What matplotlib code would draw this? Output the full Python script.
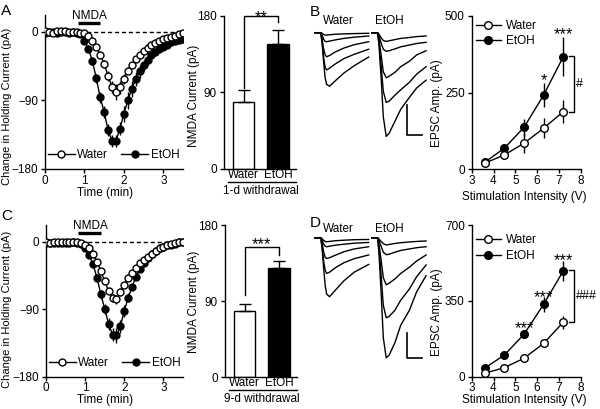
import numpy as np
import matplotlib
matplotlib.use("Agg")
import matplotlib.pyplot as plt
from matplotlib.lines import Line2D

plt.rcParams['font.family'] = ['Liberation Sans', 'DejaVu Sans']
plt.rcParams['font.size'] = 8.5
plt.rcParams['axes.linewidth'] = 1
for a in ('xtick', 'ytick'):
    plt.rcParams[a + '.major.size'] = 3
    plt.rcParams[a + '.major.width'] = 1
    plt.rcParams[a + '.major.pad'] = 2
    plt.rcParams[a + '.direction'] = 'out'

# ---------------- data ----------------
# holding current time course, one point every 0.1 min
time_min = np.linspace(0, 3.5, 36)
nmda_on = [0.83, 1.40]

a_water = [0.5, 0, -1, 0.5, 1, 0.5, 0, -0.5, 0, -1,
           -2, -6, -12, -20, -30, -42, -58, -72, -79, -73, -62, -51, -43, -36,
           -30, -25, -21, -18, -15, -12.5, -10, -8, -6.5, -5, -3, -2]
a_water_err = [1] * 10 + [1, 2, 2, 3, 4, 5, 6, 8, 10, 8, 6, 5, 4, 4,
                          3, 3, 3, 2, 2, 2, 2, 2, 2, 1, 1, 1]
a_etoh = [-1, -0.5, 0, -1, -0.5, 0, -1, -0.5, -1,
          -3, -12, -22, -38, -61, -86, -105, -129, -143, -143, -127, -108, -90,
          -75, -62, -52, -44, -37, -31, -27, -23, -20, -17, -14, -12, -10.5, -9]
a_etoh_err = [1] * 9 + [2, 3, 4, 5, 6, 7, 8, 8, 8, 8, 9, 10, 11, 10, 9,
                        8, 7, 6, 5, 5, 4, 4, 3, 3, 3, 3, 3]

c_water = [-1, -1.5, -1, -0.5, -1, -0.5, -1, 0, -0.5, -1.5,
           -4, -9, -17, -27, -39, -53, -66, -75, -77, -67, -58, -49, -42, -35,
           -29, -24, -20, -16, -12, -9, -7, -5, -3, -2, -1, 0]
c_water_err = [1] * 10 + [1, 2, 2, 3, 3, 4, 4, 5, 6, 5, 4, 4, 3, 3,
                          3, 2, 2, 2, 2, 2, 1, 1, 1, 1, 1, 1]
c_etoh = [-2, -2.5, -2, -1.5, -2, -1.5, -2, -1, -2,
          -3, -8, -18, -30, -48, -70, -90, -110, -124, -125, -113, -92, -75,
          -60, -47, -37, -29, -22, -17, -13, -9, -7, -5, -4, -3, -1, 0]
c_etoh_err = [1] * 9 + [1, 2, 3, 4, 5, 6, 7, 8, 9, 10, 9, 8, 6, 5, 4,
                        4, 3, 3, 2, 2, 2, 2, 1, 1, 1, 1, 1]

# NMDA current bars
groups = ['Water', 'EtOH']
a_bar = [79, 147]
a_bar_err = [14, 17]
c_bar = [78, 129]
c_bar_err = [9, 9]

# example EPSC traces (ms, pA)
tw = [0, 4, 5, 6, 7, 8, 10, 14, 20, 27, 37]
te = [0, 4, 5, 6.5, 8, 10, 12, 16, 20, 26, 31, 37.5]
b_water_traces = [
    [0, 0, -3, -6, -8, -8, -7, -5, -4, -3, -2],
    [0, 0, -10, -22, -29, -30, -28, -24, -19, -15, -11],
    [0, 0, -25, -55, -74, -80, -76, -64, -51, -40, -30],
    [0, 0, -35, -85, -115, -124, -118, -104, -86, -72, -55],
    [0, 0, -40, -100, -150, -172, -178, -160, -134, -110, -81],
]
b_etoh_traces = [
    [0, 0, -5, -17, -26, -29, -27, -23, -19, -16, -13, -11],
    [0, 0, -10, -35, -55, -62, -60, -54, -47, -41, -36, -32],
    [0, 0, -20, -75, -130, -150, -145, -132, -113, -95, -74, -60],
    [0, 0, -30, -110, -195, -232, -228, -208, -190, -165, -138, -113],
    [0, 0, -40, -150, -280, -345, -335, -295, -255, -215, -184, -158],
]
d_water_traces = [
    [0, 0, -5, -11, -15, -16, -15, -12, -10, -8, -7],
    [0, 0, -12, -26, -34, -36, -34, -30, -26, -22, -19],
    [0, 0, -25, -58, -78, -83, -80, -70, -56, -45, -36],
    [0, 0, -40, -95, -130, -143, -138, -120, -100, -84, -69],
    [0, 0, -50, -125, -190, -225, -236, -210, -172, -138, -107],
]
d_etoh_traces = [
    [0, 0, -5, -15, -24, -29, -27, -23, -20, -17, -15, -13],
    [0, 0, -10, -35, -58, -68, -66, -58, -51, -45, -40, -36],
    [0, 0, -25, -90, -160, -188, -182, -165, -143, -118, -93, -69],
    [0, 0, -45, -150, -270, -320, -315, -290, -250, -205, -156, -109],
    [0, 0, -60, -220, -400, -480, -470, -420, -350, -290, -216, -152],
]
scale_ms = 10
scale_pa = 100

# input-output curves
volts = [3.6, 4.5, 5.4, 6.3, 7.2]
b_water = [20, 47, 85, 134, 188]
b_water_err = [6, 13, 33, 33, 38]
b_etoh = [23, 69, 137, 242, 367]
b_etoh_err = [6, 10, 27, 40, 64]
d_water = [16, 42, 85, 154, 251]
d_water_err = [6, 8, 10, 12, 31]
d_etoh = [40, 100, 196, 334, 488]
d_etoh_err = [8, 10, 15, 34, 45]

# ---------------- figure ----------------
W, H = 600, 409
fig = plt.figure(figsize=(W / 100, H / 100), dpi=100)


def px_axes(x0, y0, x1, y1):
    return fig.add_axes([x0 / W, 1 - y1 / H, (x1 - x0) / W, (y1 - y0) / H])


def px_text(x, y, s, **kw):
    fig.text(x / W, 1 - y / H, s, **kw)


def px_hline(x0, x1, y):
    fig.add_artist(Line2D([x0 / W, x1 / W], [1 - y / H] * 2, color='k', lw=1,
                          transform=fig.transFigure))


def clean(ax):
    ax.spines['top'].set_visible(False)
    ax.spines['right'].set_visible(False)


def legend_handles(ms):
    return [Line2D([], [], color='k', lw=1, marker='o', ms=ms, mfc='white', mec='k'),
            Line2D([], [], color='k', lw=1, marker='o', ms=ms, mfc='k', mec='k')]


def time_course(ax, water, water_err, etoh, etoh_err):
    clean(ax)
    ax.axhline(0, color='k', lw=1, ls=(0, (3, 2)), zorder=1)
    ax.errorbar(time_min, etoh, yerr=etoh_err, fmt='-o', color='k', mfc='k', mec='k',
                ms=5, lw=1, elinewidth=1, capsize=0, zorder=2)
    ax.errorbar(time_min, water, yerr=water_err, fmt='-o', color='k', mfc='white', mec='k',
                ms=5, lw=1, elinewidth=1, capsize=0, zorder=3)
    ax.set_xlim(0, 3.5)
    ax.set_ylim(-180, 22)
    ax.set_xticks([0, 1, 2, 3])
    ax.set_yticks([0, -90, -180])
    ax.tick_params(axis='x', pad=1)
    ax.plot(nmda_on, [11.5, 11.5], color='k', lw=2.4, solid_capstyle='butt', clip_on=False)
    ax.text(1.13, 16.3, 'NMDA', ha='center', va='baseline')
    ax.legend(legend_handles(5), groups, ncol=2, loc='center left',
              bbox_to_anchor=(0.02, 0.09), frameon=False, handlelength=2.3,
              handletextpad=0.2, columnspacing=1.1, borderpad=0, borderaxespad=0)


def bar_panel(ax, means, errs, bracket, stars):
    clean(ax)
    ax.bar([0, 1], means, width=0.62, color=['white', 'black'], edgecolor='k',
           linewidth=1, zorder=2)
    ax.errorbar([0, 1], means, yerr=[[0, 0], errs], fmt='none', ecolor='k',
                elinewidth=1, capsize=4.5, capthick=1, zorder=3)
    left_end, top, right_end, star_y = bracket
    ax.plot([0, 0, 1, 1], [left_end, top, top, right_end], color='k', lw=1, clip_on=False)
    ax.annotate(stars, (0.5, star_y), xytext=(0, -7), textcoords='offset points',
                ha='center', va='baseline', fontsize=12, annotation_clip=False)
    ax.set_xlim(-0.57, 1.52)
    ax.set_ylim(0, 180)
    ax.set_yticks([0, 90, 180])
    ax.set_xticks([0, 1], groups)
    ax.tick_params(axis='x', length=0, pad=0)


def trace_panel(ax, w_traces, e_traces, e_offset, corner):
    ax.axis('off')
    for tr in w_traces:
        ax.plot(tw, tr, color='k', lw=1)
    for tr in e_traces:
        ax.plot(np.array(te) + e_offset, tr, color='k', lw=1)
    x0, y0 = corner
    ax.plot([x0, x0, x0 + scale_ms], [y0 + scale_pa, y0, y0], color='k', lw=1.2)


def epsc_panel(ax, water, water_err, etoh, etoh_err, yticks, star_marks, bracket, hashes, leg_y):
    clean(ax)
    ax.errorbar(volts, etoh, yerr=etoh_err, fmt='-o', color='k', mfc='k', mec='k',
                ms=5.5, lw=1, elinewidth=1, capsize=0, zorder=3, clip_on=False)
    ax.errorbar(volts, water, yerr=water_err, fmt='-o', color='k', mfc='white', mec='k',
                ms=5.5, lw=1, elinewidth=1, capsize=0, zorder=4, clip_on=False)
    ax.set_xlim(3, 8)
    ax.set_ylim(0, yticks[-1])
    ax.set_xticks([3, 4, 5, 6, 7, 8])
    ax.set_yticks(yticks)
    ax.tick_params(axis='x', pad=1)
    for v, y, s in star_marks:
        ax.annotate(s, (v, y), xytext=(0, -7), textcoords='offset points',
                    ha='center', va='baseline', fontsize=12, annotation_clip=False)
    top, bottom = bracket
    ax.plot([7.46, 7.69, 7.69, 7.46], [top, top, bottom, bottom], color='k', lw=1, clip_on=False)
    ax.text(7.8, (top + bottom) / 2, hashes, ha='left', va='center', fontsize=9)
    ax.legend(legend_handles(5.5), groups, loc='upper left', bbox_to_anchor=(0.04, leg_y),
              frameon=False, handlelength=2.1, handletextpad=0.4, labelspacing=0.3,
              borderpad=0, borderaxespad=0)


# row 1
ax_a = px_axes(45, 15, 183, 169)
time_course(ax_a, a_water, a_water_err, a_etoh, a_etoh_err)
ax_ab = px_axes(224, 16, 296, 169)
bar_panel(ax_ab, a_bar, a_bar_err, (95, 180, 173, 184), '**')
ax_bt = px_axes(312, 28, 430, 140)
ax_bt.set_xlim(-2.07, 79.3)
ax_bt.set_ylim(-357, 15.6)
trace_panel(ax_bt, b_water_traces, b_etoh_traces, 39.1, (63.7, -341))
ax_b = px_axes(471.7, 16, 580.7, 169.3)
epsc_panel(ax_b, b_water, b_water_err, b_etoh, b_etoh_err, [0, 250, 500],
           [(6.3, 307, '*'), (7.2, 456, '***')], (369, 188), '#', 0.975)

# row 2
ax_c = px_axes(46, 225, 183, 376.7)
time_course(ax_c, c_water, c_water_err, c_etoh, c_etoh_err)
ax_cb = px_axes(225, 225, 297, 377.3)
bar_panel(ax_cb, c_bar, c_bar_err, (97.5, 153.5, 145, 162.6), '***')
ax_dt = px_axes(312, 233, 430, 365)
ax_dt.set_xlim(-2.07, 79.3)
ax_dt.set_ylim(-509, 18.8)
trace_panel(ax_dt, d_water_traces, d_etoh_traces, 39.1, (63.7, -482))
ax_d = px_axes(471.7, 225, 580.7, 376.7)
epsc_panel(ax_d, d_water, d_water_err, d_etoh, d_etoh_err, [0, 350, 700],
           [(5.4, 246, '***'), (6.3, 390, '***'), (7.2, 561, '***')], (492, 254), '###', 0.94)

# labels
px_text(7.5, 106, 'Change in Holding Current (pA)', rotation=90, ha='center', va='center', fontsize=8)
px_text(7.5, 309, 'Change in Holding Current (pA)', rotation=90, ha='center', va='center', fontsize=8)
px_text(105, 193, 'Time (min)', ha='center', va='center')
px_text(105, 399.5, 'Time (min)', ha='center', va='center')
px_text(194.5, 96, 'NMDA Current (pA)', rotation=90, ha='center', va='center')
px_text(194.5, 302, 'NMDA Current (pA)', rotation=90, ha='center', va='center')
px_text(437, 103, 'EPSC Amp. (pA)', rotation=90, ha='center', va='center')
px_text(437, 312, 'EPSC Amp. (pA)', rotation=90, ha='center', va='center')
px_text(524, 197, 'Stimulation Intensity (V)', ha='center', va='center')
px_text(524, 400.5, 'Stimulation Intensity (V)', ha='center', va='center')
for y in (21, 229):
    px_text(338, y, 'Water', ha='center', va='center')
    px_text(389, y, 'EtOH', ha='center', va='center')

px_hline(228, 296, 182)
px_text(261, 194, '1-d withdrawal', ha='center', va='baseline')
px_hline(229, 297, 389.5)
px_text(262, 401.5, '9-d withdrawal', ha='center', va='baseline')

px_text(1, 4, 'A', fontsize=11, va='top')
px_text(310, 5, 'B', fontsize=11, va='top')
px_text(1, 209, 'C', fontsize=11, va='top')
px_text(310, 216, 'D', fontsize=11, va='top')

fig.savefig('out.png', dpi=100)
